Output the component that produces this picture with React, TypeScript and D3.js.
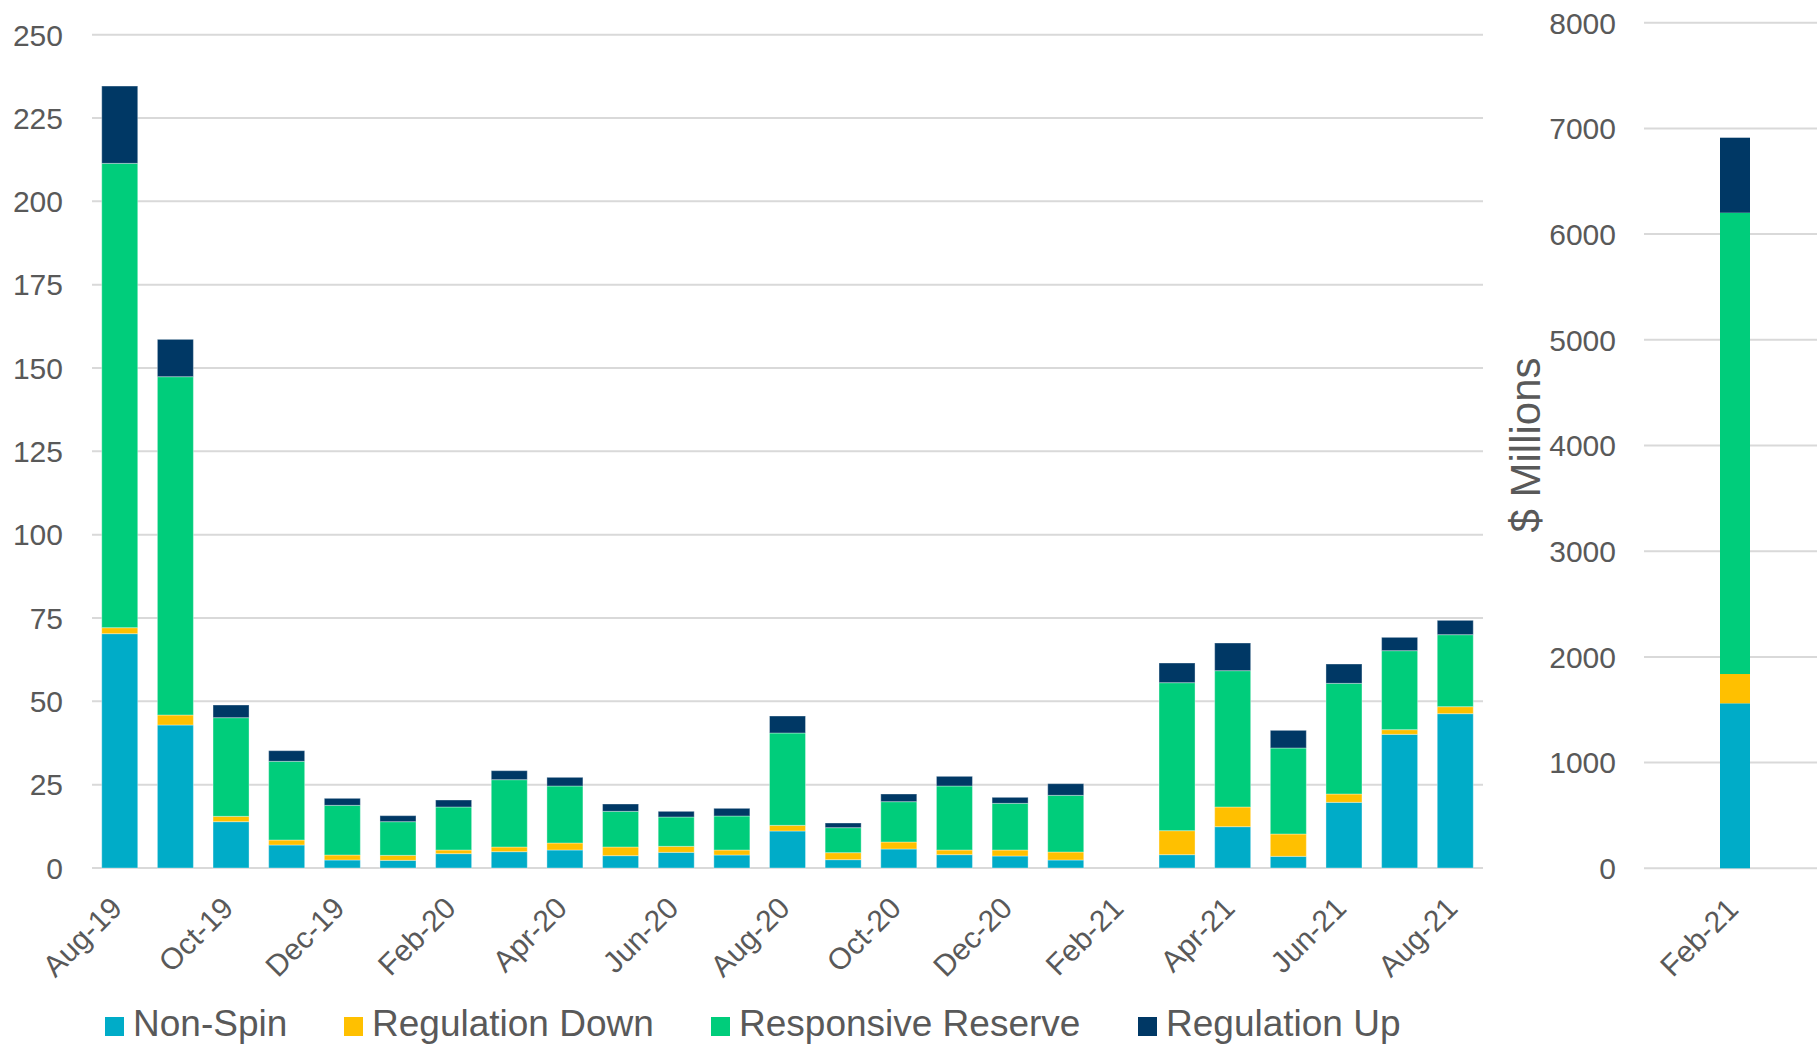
import React from "react";
import * as d3 from "d3";

const months = [
  "Aug-19", "Sep-19", "Oct-19", "Nov-19", "Dec-19", "Jan-20", "Feb-20", "Mar-20", "Apr-20",
  "May-20", "Jun-20", "Jul-20", "Aug-20", "Sep-20", "Oct-20", "Nov-20", "Dec-20", "Jan-21",
  "Feb-21", "Mar-21", "Apr-21", "May-21", "Jun-21", "Jul-21", "Aug-21",
];
const tickMonths = [
  "Aug-19", "Oct-19", "Dec-19", "Feb-20", "Apr-20", "Jun-20", "Aug-20",
  "Oct-20", "Dec-20", "Feb-21", "Apr-21", "Jun-21", "Aug-21",
];

const nonSpin = [70.3, 42.9, 13.9, 6.9, 2.4, 2.3, 4.3, 4.9, 5.4, 3.7, 4.7, 3.9, 11.1, 2.5, 5.7, 4.0, 3.6, 2.4, 0, 4.0, 12.4, 3.5, 19.7, 40.1, 46.3];
const regDown = [1.8, 3.0, 1.6, 1.5, 1.5, 1.5, 1.1, 1.4, 2.1, 2.6, 1.8, 1.5, 1.7, 2.1, 2.1, 1.4, 1.8, 2.4, 0, 7.2, 5.9, 6.7, 2.5, 1.4, 2.1];
const respReserve = [139.3, 101.5, 29.6, 23.6, 14.9, 10.1, 12.9, 20.2, 17.1, 10.7, 8.8, 10.2, 27.7, 7.5, 12.1, 19.2, 14.0, 17.0, 0, 44.4, 40.9, 25.8, 33.2, 23.7, 21.6];
const regUp = [23.2, 11.2, 3.8, 3.2, 2.1, 1.8, 2.1, 2.7, 2.6, 2.2, 1.7, 2.3, 5.1, 1.4, 2.3, 2.9, 1.8, 3.5, 0, 5.9, 8.3, 5.3, 5.8, 4.0, 4.3];

const febMonth = ["Feb-21"];
const febNonSpin = [1561];
const febRegDown = [277];
const febRespReserve = [4364];
const febRegUp = [710];

const leftTicks = [0, 25, 50, 75, 100, 125, 150, 175, 200, 225, 250];
const rightTicks = [0, 1000, 2000, 3000, 4000, 5000, 6000, 7000, 8000];

const seriesKeys = ["Non-Spin", "Regulation Down", "Responsive Reserve", "Regulation Up"];
const seriesColors = ["#00ACC8", "#FFC000", "#00CD7B", "#003865"];

const FONT = "Arial, 'Liberation Sans', sans-serif";
const TEXT = "#595959";
const GRID = "#d9d9d9";

type Row = { month: string; [k: string]: number | string };

function buildRows(cats: string[], a: number[], b: number[], c: number[], d: number[]): Row[] {
  return cats.map((m, i) => ({
    month: m,
    "Non-Spin": a[i],
    "Regulation Down": b[i],
    "Responsive Reserve": c[i],
    "Regulation Up": d[i],
  }));
}

export default function App() {
  const W = 1817;
  const H = 1045;

  const mainRows = buildRows(months, nonSpin, regDown, respReserve, regUp);
  const febRows = buildRows(febMonth, febNonSpin, febRegDown, febRespReserve, febRegUp);

  const stack = d3.stack<Row>().keys(seriesKeys).value((r, k) => r[k] as number);
  const mainStack = stack(mainRows);
  const febStack = stack(febRows);

  const x = d3.scaleBand<string>().domain(months).range([92, 1483]).paddingInner(0.353).paddingOuter(0.175);
  const y = d3.scaleLinear().domain([0, 250]).range([868, 34.7]);

  const x2 = d3.scaleBand<string>().domain(febMonth).range([1644, 1826]).paddingInner(0.717).paddingOuter(0.717);
  const y2 = d3.scaleLinear().domain([0, 8000]).range([868.3, 22.7]);

  const legendX = [105, 344, 711, 1138];

  return (
    <svg width={W} height={H} style={{ position: "absolute", left: 0, top: 0, background: "#fff" }} fontFamily={FONT}>
      {/* left grid */}
      {leftTicks.map((t) => (
        <g key={"lg" + t}>
          <line x1={92} x2={1483} y1={y(t)} y2={y(t)} stroke={GRID} strokeWidth={2} />
          <text x={63} y={y(t)} dy="0.36em" textAnchor="end" fontSize={30} fill={TEXT}>{t}</text>
        </g>
      ))}
      {/* right grid */}
      {rightTicks.map((t) => (
        <g key={"rg" + t}>
          <line x1={1644} x2={1817} y1={y2(t)} y2={y2(t)} stroke={GRID} strokeWidth={2} />
          <text x={1616} y={y2(t)} dy="0.36em" textAnchor="end" fontSize={30} fill={TEXT}>{t}</text>
        </g>
      ))}

      {/* main bars */}
      {mainStack.map((s, si) => (
        <g key={s.key} fill={seriesColors[si]}>
          {s.map((d, i) => {
            const h = y(d[0]) - y(d[1]);
            if (h <= 0) return null;
            return (
              <rect key={i} x={x(months[i])} y={y(d[1])} width={x.bandwidth()} height={h}
                stroke="#ffffff" strokeOpacity={0.35} strokeWidth={1} />
            );
          })}
        </g>
      ))}

      {/* right bars */}
      {febStack.map((s, si) => (
        <g key={"f" + s.key} fill={seriesColors[si]}>
          {s.map((d, i) => (
            <rect key={i} x={x2(febMonth[i])} y={y2(d[1])} width={x2.bandwidth()} height={y2(d[0]) - y2(d[1])} />
          ))}
        </g>
      ))}

      {/* x labels main */}
      {tickMonths.map((m) => (
        <text key={"xl" + m} transform={`translate(${(x(m) as number) + x.bandwidth() / 2 + 4},910) rotate(-45)`}
          textAnchor="end" fontSize={30} fill={TEXT}>{m}</text>
      ))}
      {febMonth.map((m) => (
        <text key={"xr" + m} transform={`translate(${(x2(m) as number) + x2.bandwidth() / 2 + 5},911) rotate(-45)`}
          textAnchor="end" fontSize={30} fill={TEXT}>{m}</text>
      ))}

      {/* right axis title */}
      <text transform="translate(1540,445) rotate(-90)" textAnchor="middle" fontSize={42} fill={TEXT}>$ Millions</text>

      {/* legend */}
      {seriesKeys.map((k, i) => (
        <g key={"lgd" + k}>
          <rect x={legendX[i]} y={1017} width={19} height={19} fill={seriesColors[i]} />
          <text x={legendX[i] + 28} y={1035.5} fontSize={37} fill={TEXT}>{k}</text>
        </g>
      ))}
    </svg>
  );
}
